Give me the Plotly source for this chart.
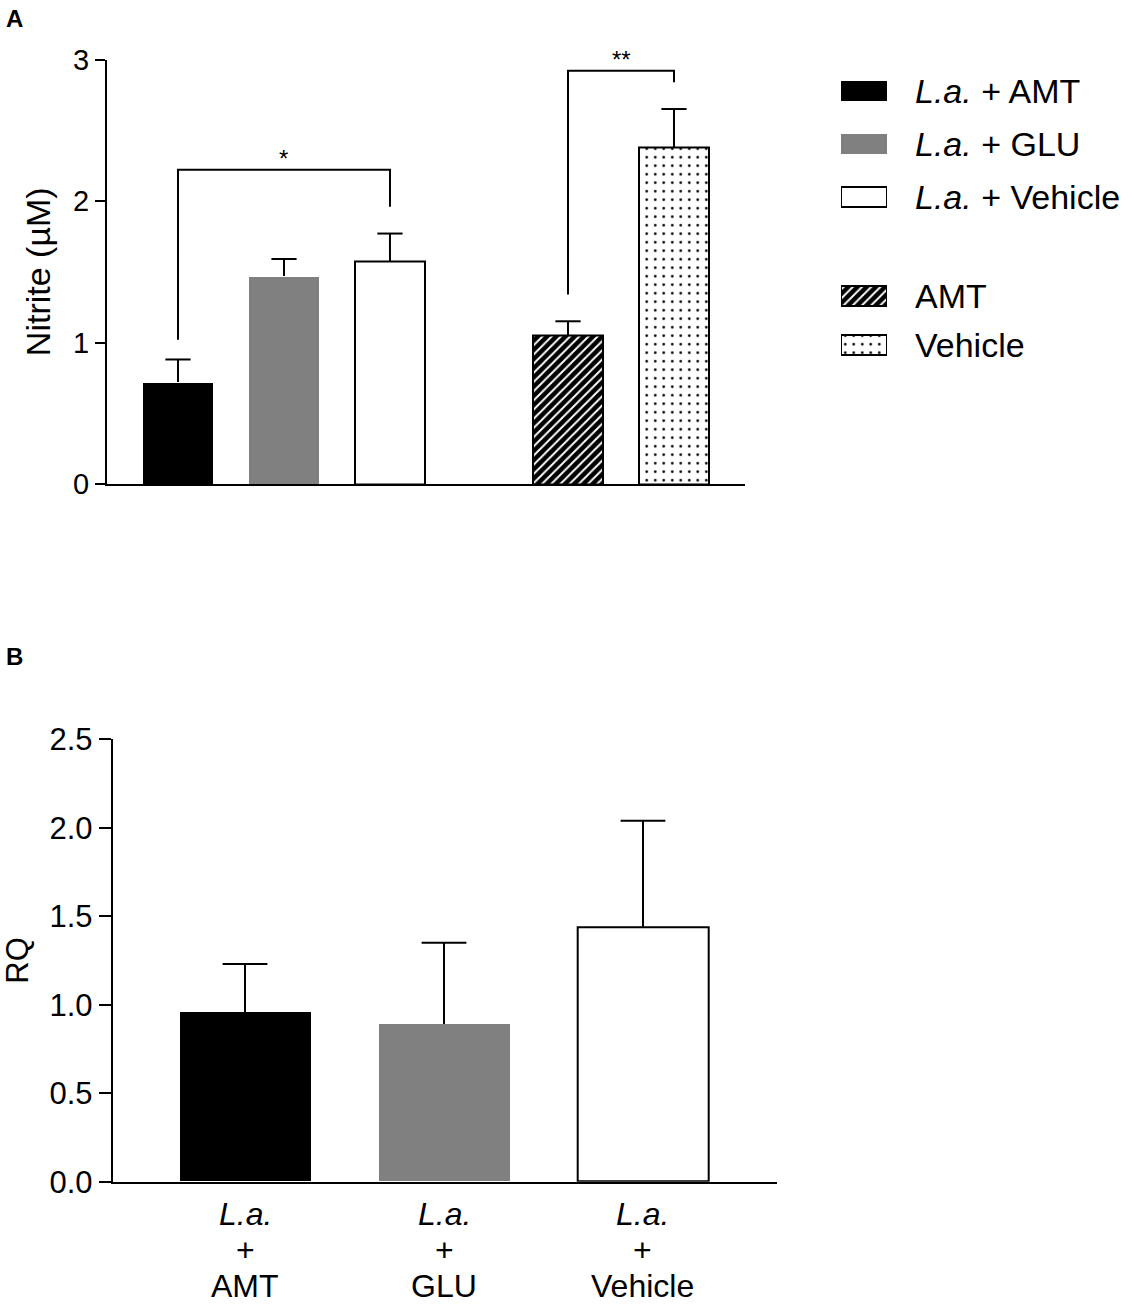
import plotly.graph_objects as go

# ---- Panel A: nitrite (uM), mean + SEM ----
a_groups = ["L.a. + AMT", "L.a. + GLU", "L.a. + Vehicle", "AMT", "Vehicle"]
a_legend = ["<i>L.a.</i> + AMT", "<i>L.a.</i> + GLU", "<i>L.a.</i> + Vehicle", "AMT", "Vehicle"]
a_nitrite = [0.72, 1.47, 1.57, 1.05, 2.38]
a_sem = [0.16, 0.12, 0.20, 0.10, 0.27]
a_ticks = [0, 1, 2, 3]

# significance brackets (bar index pairs)
sig_pairs = [(0, 2), (3, 4)]
sig_top = [2.22, 2.92]
sig_left_end = [1.02, 1.34]
sig_right_end = [1.96, 2.84]
sig_text = ["*", "**"]

# ---- Panel B: RQ, mean + SEM ----
b_treatments = ["AMT", "GLU", "Vehicle"]
b_rq = [0.96, 0.89, 1.44]
b_sem = [0.27, 0.46, 0.60]
b_ticks = [0, 0.5, 1.0, 1.5, 2.0, 2.5]

FONT = "Arial, Liberation Sans, sans-serif"
GRAY = "#808080"
W, H = 1128, 1304

styles = {
    "L.a. + AMT": dict(color="black", line=dict(width=0)),
    "L.a. + GLU": dict(color=GRAY, line=dict(width=0)),
    "L.a. + Vehicle": dict(color="white", line=dict(color="black", width=2)),
    "AMT": dict(color="white", line=dict(color="black", width=2),
                pattern=dict(shape="/", fgcolor="black", bgcolor="white", fgopacity=1,
                             fillmode="replace", size=6.5, solidity=0.7)),
    "Vehicle": dict(color="white", line=dict(color="black", width=2),
                    pattern=dict(shape=".", fgcolor="black", bgcolor="white", fgopacity=1,
                                 fillmode="replace", size=8.5, solidity=0.075)),
}

fig = go.Figure()

# bar positions: two groups separated by a gap
group_gap = 0.68
a_x = [i + (group_gap if i >= 3 else 0) for i in range(len(a_groups))]
bar_w = 0.66

for xi, g, v, e in zip(a_x, a_groups, a_nitrite, a_sem):
    fig.add_trace(go.Bar(
        x=[xi], y=[v], width=bar_w, marker=styles[g], xaxis="x", yaxis="y",
        error_y=dict(type="data", array=[e], arrayminus=[0], symmetric=False,
                     width=0, thickness=2, color="black"),
        showlegend=False,
    ))

# error caps
fig.add_trace(go.Scatter(
    x=a_x, y=[v + e for v, e in zip(a_nitrite, a_sem)], mode="markers",
    marker=dict(symbol="line-ew", size=18, line=dict(width=2, color="black")),
    xaxis="x", yaxis="y", showlegend=False, cliponaxis=False,
))

# significance brackets
for (i, j), top, le, re_, txt in zip(sig_pairs, sig_top, sig_left_end, sig_right_end, sig_text):
    fig.add_trace(go.Scatter(
        x=[a_x[i], a_x[i], a_x[j], a_x[j]], y=[le, top, top, re_], mode="lines",
        line=dict(color="black", width=2), xaxis="x", yaxis="y",
        showlegend=False, cliponaxis=False,
    ))
    fig.add_annotation(x=(a_x[i] + a_x[j]) / 2, y=top, xref="x", yref="y",
                       text=txt, showarrow=False, yanchor="bottom", yshift=-4,
                       font=dict(size=24, color="black", family=FONT))

# ---- custom legend (swatches drawn as bars on a hidden pixel-scaled axis) ----
legend_rows_px = [91, 144, 197, 296, 345]
for g, lab, yp in zip(a_groups, a_legend, legend_rows_px):
    fig.add_trace(go.Bar(
        x=[1], y=[yp], base=[0], orientation="h", width=20, marker=styles[g],
        xaxis="x3", yaxis="y3", showlegend=False,
    ))
    fig.add_annotation(x=913 / W, y=yp, xref="paper", yref="y3", text=lab,
                       showarrow=False, xanchor="left", yanchor="middle",
                       font=dict(size=34, color="black", family=FONT))

# ---- Panel B ----
b_x = list(range(len(b_treatments)))
b_fill = ["L.a. + AMT", "L.a. + GLU", "L.a. + Vehicle"]
for xi, g, v, e in zip(b_x, b_fill, b_rq, b_sem):
    fig.add_trace(go.Bar(
        x=[xi], y=[v], width=bar_w, marker=styles[g], xaxis="x2", yaxis="y2",
        error_y=dict(type="data", array=[e], arrayminus=[0], symmetric=False,
                     width=0, thickness=2, color="black"),
        showlegend=False,
    ))
fig.add_trace(go.Scatter(
    x=b_x, y=[v + e for v, e in zip(b_rq, b_sem)], mode="markers",
    marker=dict(symbol="line-ew", size=32, line=dict(width=2, color="black")),
    xaxis="x2", yaxis="y2", showlegend=False, cliponaxis=False,
))

# multi-line category labels under panel B
for xi, t in zip(b_x, b_treatments):
    for k, line in enumerate(["<i>L.a.</i>", "+", t]):
        fig.add_annotation(x=xi, y=0, xref="x2", yref="y2", text=line,
                           showarrow=False, yanchor="middle", yshift=-(32.5 + 36 * k),
                           font=dict(size=32, color="black", family=FONT))

# panel letters
fig.add_annotation(x=4 / W, y=1 - 18 / H, xref="paper", yref="paper", text="<b>A</b>",
                   showarrow=False, xanchor="left", yanchor="middle",
                   font=dict(size=24, color="black", family=FONT))
fig.add_annotation(x=4 / W, y=1 - 656 / H, xref="paper", yref="paper", text="<b>B</b>",
                   showarrow=False, xanchor="left", yanchor="middle",
                   font=dict(size=24, color="black", family=FONT))

axis_common = dict(showgrid=False, zeroline=False, showline=True, linecolor="black",
                   linewidth=2, automargin=False)

fig.update_layout(
    width=W, height=H,
    margin=dict(l=0, r=0, t=0, b=0),
    paper_bgcolor="white", plot_bgcolor="white",
    font=dict(family=FONT, color="black"),
    barmode="overlay",
    bargap=0,
    xaxis=dict(domain=[107 / W, 745 / W], range=[-0.67, 5.35], ticks="",
               showticklabels=False, anchor="y", **axis_common),
    yaxis=dict(domain=[1 - 484 / H, 1 - 59.5 / H], range=[0, 3], tickvals=a_ticks,
               ticks="outside", ticklen=10, tickwidth=2, tickcolor="black",
               tickfont=dict(size=29), anchor="x",
               title=dict(text="Nitrite (µM)", font=dict(size=34), standoff=12),
               **axis_common),
    xaxis2=dict(domain=[112.7 / W, 776.7 / W], range=[-0.665, 2.672], ticks="",
                showticklabels=False, anchor="y2", **axis_common),
    yaxis2=dict(domain=[1 - 1181.7 / H, 1 - 739.3 / H], range=[0, 2.5], tickvals=b_ticks,
                tickformat=".1f", ticks="outside", ticklen=12, tickwidth=2,
                tickcolor="black", tickfont=dict(size=31), anchor="x2",
                title=dict(text="RQ", font=dict(size=31), standoff=18),
                **axis_common),
    xaxis3=dict(domain=[841 / W, 887 / W], range=[0, 1], visible=False, anchor="y3"),
    yaxis3=dict(domain=[0, 1], range=[H, 0], visible=False, anchor="x3"),
)

# drop the browser's default body margin so the figure sits at the page corner
fig.write_html("out.html", config={"displayModeBar": False},
               post_script="document.body.style.margin='0';")
